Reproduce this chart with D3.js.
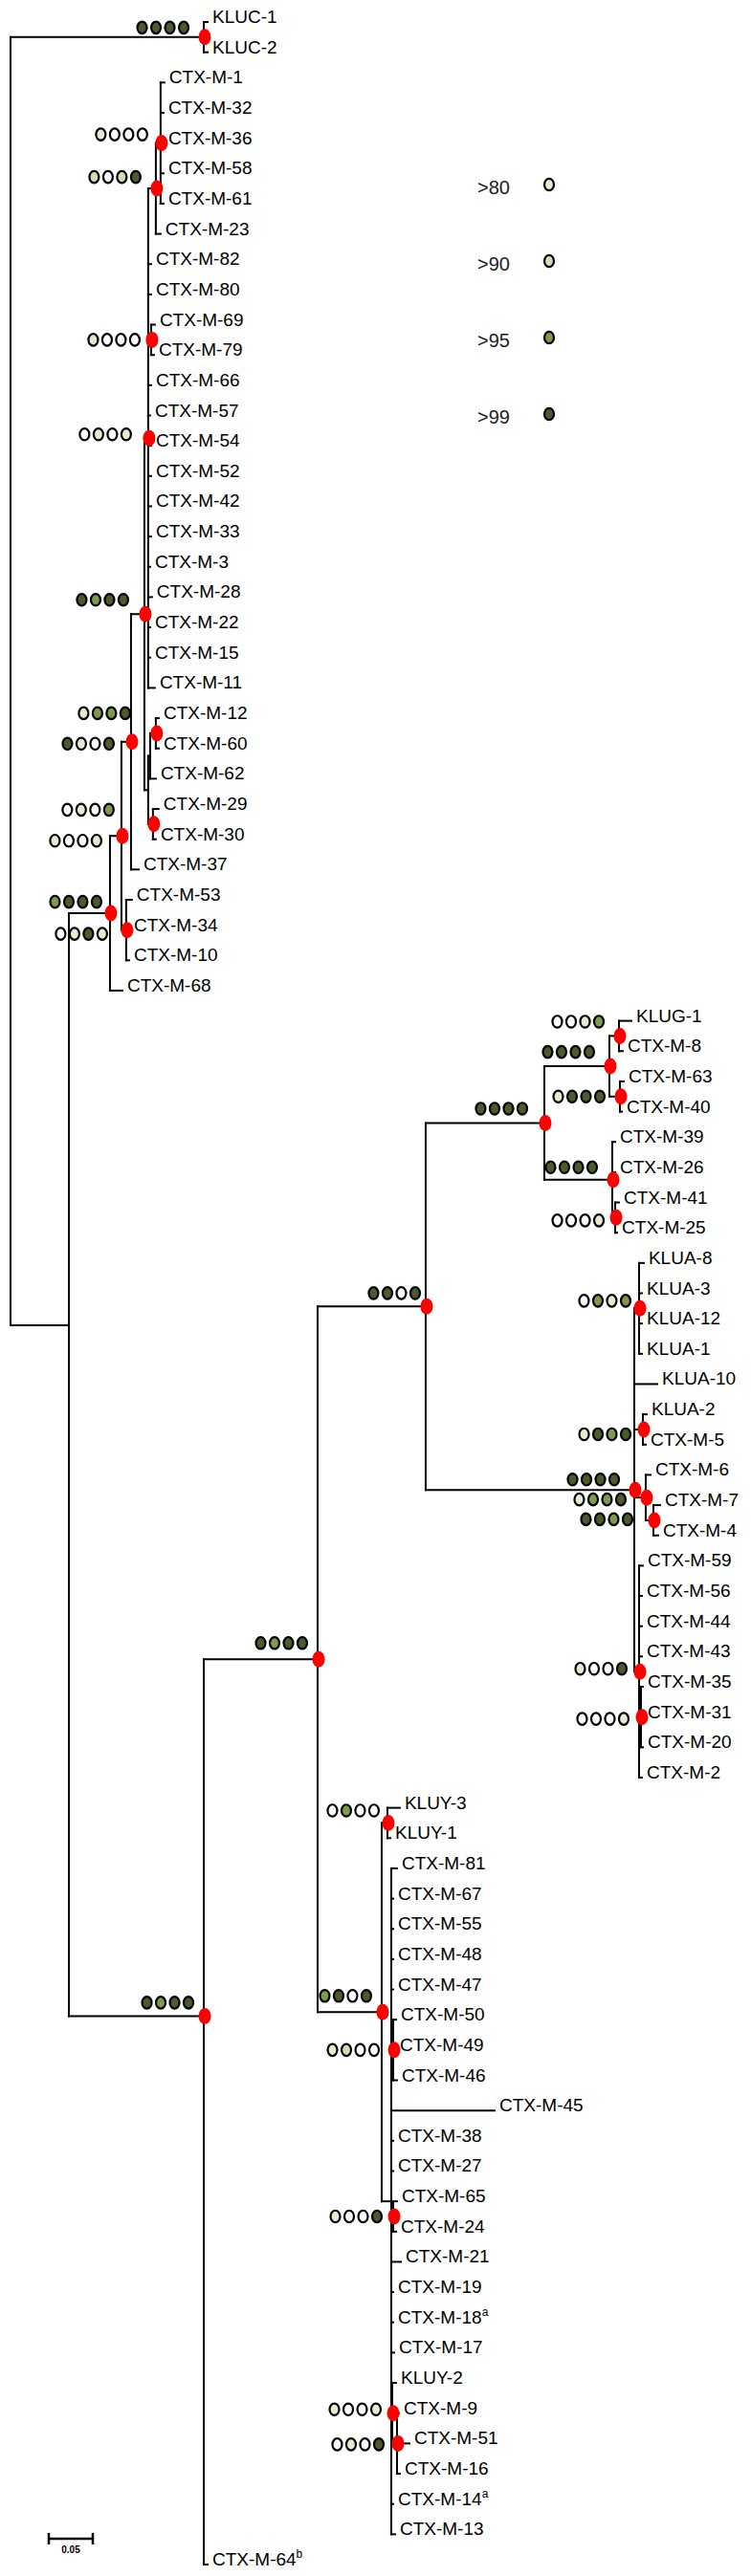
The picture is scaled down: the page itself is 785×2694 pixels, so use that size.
<!DOCTYPE html>
<html><head><meta charset="utf-8">
<script src="https://cdn.jsdelivr.net/npm/d3@7"></script>
<style>body{margin:0;background:#fff}svg{display:block}</style>
</head><body>
<svg id="chart" width="785" height="2694"></svg>
<script>
// ---------- DATA ----------
const leafNames = [
 "KLUC-1","KLUC-2","CTX-M-1","CTX-M-32","CTX-M-36","CTX-M-58","CTX-M-61","CTX-M-23",
 "CTX-M-82","CTX-M-80","CTX-M-69","CTX-M-79","CTX-M-66","CTX-M-57","CTX-M-54","CTX-M-52",
 "CTX-M-42","CTX-M-33","CTX-M-3","CTX-M-28","CTX-M-22","CTX-M-15","CTX-M-11","CTX-M-12",
 "CTX-M-60","CTX-M-62","CTX-M-29","CTX-M-30","CTX-M-37","CTX-M-53","CTX-M-34","CTX-M-10",
 "CTX-M-68","KLUG-1","CTX-M-8","CTX-M-63","CTX-M-40","CTX-M-39","CTX-M-26","CTX-M-41",
 "CTX-M-25","KLUA-8","KLUA-3","KLUA-12","KLUA-1","KLUA-10","KLUA-2","CTX-M-5",
 "CTX-M-6","CTX-M-7","CTX-M-4","CTX-M-59","CTX-M-56","CTX-M-44","CTX-M-43","CTX-M-35",
 "CTX-M-31","CTX-M-20","CTX-M-2","KLUY-3","KLUY-1","CTX-M-81","CTX-M-67","CTX-M-55",
 "CTX-M-48","CTX-M-47","CTX-M-50","CTX-M-49","CTX-M-46","CTX-M-45","CTX-M-38","CTX-M-27",
 "CTX-M-65","CTX-M-24","CTX-M-21","CTX-M-19","CTX-M-18","CTX-M-17","KLUY-2","CTX-M-9",
 "CTX-M-51","CTX-M-16","CTX-M-14","CTX-M-13","CTX-M-64"
];
const leafSuperscripts = [["CTX-M-18","a"],["CTX-M-14","a"],["CTX-M-64","b"]];

// internal nodes: [node, parent, branch length]
const internalEdges = [
 ["K","R",0.2196],["G","R",0.0663],["A","G",0.0467],["A1","A",0.0130],["A2","A1",0.0109],
 ["A4","A2",0.0152],["C1","A4",0.0043],["B2","C1",0.0087],["B1","B2",0.0054],["N6979","C1",0.0033],
 ["C3","A4",0.0043],["C2","C3",0.0022],["N1260","C2",0.0065],["N2930","C3",0.0054],["A3","A1",0.0054],
 ["Bc","G",0.1533],["D","Bc",0.1293],["E","D",0.1228],["F","E",0.1348],["F1","F",0.0739],
 ["F1a","F1",0.0109],["F1b","F1",0.0120],["F2","F",0.0772],["F2b","F2",0.0033],["H","E",0.2370],
 ["KA","H",0.0054],["K25","H",0.0098],["N674","H",0.0130],["N74","N674",0.0087],["P","H",0.0054],
 ["P2","P",0.0022],["L","D",0.0728],["K2","L",0.0065],["N","L",0.0109],["N504","N",0.0022],
 ["N6524","N",0.0022],["X1","N",0.0011],["X2","X1",0.0054]
];
// leaves: [leaf, parent, branch length]
const leafEdges = [
 ["KLUC-1","K",0.0043],["KLUC-2","K",0.0043],["CTX-M-1","B1",0.0043],["CTX-M-32","B1",0.0033],
 ["CTX-M-36","B1",0.0033],["CTX-M-58","B1",0.0033],["CTX-M-61","B1",0.0033],["CTX-M-23","B2",0.0054],
 ["CTX-M-82","C1",0.0033],["CTX-M-80","C1",0.0033],["CTX-M-69","N6979",0.0043],["CTX-M-79","N6979",0.0033],
 ["CTX-M-66","C1",0.0033],["CTX-M-57","C1",0.0022],["CTX-M-54","C1",0.0033],["CTX-M-52","C1",0.0033],
 ["CTX-M-42","C1",0.0033],["CTX-M-33","C1",0.0033],["CTX-M-3","C1",0.0022],["CTX-M-28","C1",0.0043],
 ["CTX-M-22","C1",0.0022],["CTX-M-15","C1",0.0022],["CTX-M-11","C1",0.0076],["CTX-M-12","N1260",0.0033],
 ["CTX-M-60","N1260",0.0033],["CTX-M-62","C2",0.0065],["CTX-M-29","N2930",0.0065],["CTX-M-30","N2930",0.0033],
 ["CTX-M-37","A2",0.0087],["CTX-M-53","A3",0.0065],["CTX-M-34","A3",0.0033],["CTX-M-10","A3",0.0033],
 ["CTX-M-68","A",0.0141],["KLUG-1","F1a",0.0141],["CTX-M-8","F1a",0.0043],["CTX-M-63","F1b",0.0043],
 ["CTX-M-40","F1b",0.0022],["CTX-M-39","F2",0.0033],["CTX-M-26","F2",0.0033],["CTX-M-41","F2b",0.0043],
 ["CTX-M-25","F2b",0.0022],["KLUA-8","KA",0.0054],["KLUA-3","KA",0.0033],["KLUA-12","KA",0.0033],
 ["KLUA-1","KA",0.0033],["KLUA-10","H",0.0261],["KLUA-2","K25",0.0043],["CTX-M-5","K25",0.0033],
 ["CTX-M-6","N674",0.0054],["CTX-M-7","N74",0.0076],["CTX-M-4","N74",0.0054],["CTX-M-59","P",0.0043],
 ["CTX-M-56","P",0.0033],["CTX-M-44","P",0.0033],["CTX-M-43","P",0.0033],["CTX-M-35","P2",0.0022],
 ["CTX-M-31","P2",0.0022],["CTX-M-20","P2",0.0022],["CTX-M-2","P",0.0033],["KLUY-3","K2",0.0141],
 ["KLUY-1","K2",0.0033],["CTX-M-81","N",0.0065],["CTX-M-67","N",0.0022],["CTX-M-55","N",0.0022],
 ["CTX-M-48","N",0.0022],["CTX-M-47","N",0.0022],["CTX-M-50","N504",0.0033],["CTX-M-49","N504",0.0022],
 ["CTX-M-46","N504",0.0043],["CTX-M-45","N",0.1174],["CTX-M-38","N",0.0022],["CTX-M-27","N",0.0022],
 ["CTX-M-65","N6524",0.0043],["CTX-M-24","N6524",0.0033],["CTX-M-21","N",0.0109],["CTX-M-19","N",0.0022],
 ["CTX-M-18","N",0.0022],["CTX-M-17","N",0.0033],["KLUY-2","X1",0.0043],["CTX-M-9","X2",0.0022],
 ["CTX-M-51","X2",0.0141],["CTX-M-16","X2",0.0033],["CTX-M-14","N",0.0022],["CTX-M-13","N",0.0043],
 ["CTX-M-64","Bc",0.0043]
];
// support classes per node (0 = below 80, 1 = >80, 2 = >90, 3 = >95, 4 = >99)
const supportNodes = ["K","B1","B2","N6979","C1","A4","N1260","A2","N2930","A1","A","A3","E","F","F1a","F1",
 "F1b","F2","F2b","KA","K25","H","N674","N74","P","P2","D","Bc","L","K2","N504","N6524","X1","X2"];
const supportValues = [
 [4,4,4,4],[1,0,0,0],[2,0,2,4],[1,0,0,0],[0,1,0,1],[4,3,4,4],[1,3,3,4],[4,1,0,4],[0,1,0,3],[1,0,0,1],
 [3,4,4,4],[0,1,4,1],[4,4,0,4],[4,4,4,4],[0,0,1,3],[4,4,4,4],[1,4,4,4],[4,4,4,4],[0,0,0,1],[0,3,1,3],
 [1,4,3,4],[4,4,4,4],[1,3,3,4],[4,4,3,4],[1,0,0,4],[0,0,0,1],[4,3,4,4],[4,3,4,4],[3,4,0,4],[0,3,0,0],
 [1,2,0,0],[1,0,0,4],[1,0,0,1],[0,1,0,4]
];
const legendLabels = [">80",">90",">95",">99"];
const legendClasses = [1,2,3,4];
const scaleBarValue = 0.05;

// ---------- STYLE / LAYOUT ----------
const classColors = ["#ffffff","#e4ebcf","#d2ddb1","#7e9a4b","#4b5b2c"];
// rows at which the figure draws two deep nodes (hand-placed in the original figure)
const nodeRowOverride = {G: 43.06, Bc: 65.88};
// annotation placement of the support strings, relative to the node [dx of last dot, dy]
const dotPlacement = {
 K:[-21,-10],B1:[-19,-9],B2:[-21,-12],N6979:[-17,0],C1:[-23,-4],A4:[-22,-15],N1260:[-32,-21],A2:[-23,2],
 N2930:[-46,-15],A1:[-26,5],A:[-14,-12],A3:[-25,4],E:[-11,-14],F:[-23,-15],F1a:[-21,-15],F1:[-21,-15],
 F1b:[-21,0],F2:[-21,-13],F2b:[-17,3],KA:[-14,-8],K25:[-18,5],H:[-21,-11],N674:[-26,2],N74:[-27,-1],
 P:[-18,-3],P2:[-18,2],D:[-16,-17],Bc:[-16,-14],L:[-16,-17],K2:[-14,-13],N504:[-20,0],N6524:[-17,0],
 X1:[-17,-4],X2:[-19,1]
};
const FONT = "'Liberation Sans', Arial, sans-serif";

const svg = d3.select("#chart");
const x = d3.scaleLinear().domain([0, 1]).range([11, 931]);
const y = d3.scaleLinear().domain([0, leafNames.length - 1]).range([23, 2682]);

// ---------- BUILD TREE ----------
const table = [{id:"R", parent:null, len:0}]
  .concat(internalEdges.map(([id,parent,len]) => ({id,parent,len})))
  .concat(leafEdges.map(([id,parent,len]) => ({id,parent,len})));
const root = d3.stratify().id(d => d.id).parentId(d => d.parent)(table);
const leafIndex = new Map(leafNames.map((n,i) => [n,i]));
root.eachAfter(n => {
  if (!n.children) { n.row = leafIndex.get(n.id); n.minRow = n.row; n.py = y(n.row); }
  else {
    n.children.sort((a,b) => a.minRow - b.minRow);
    n.minRow = n.children[0].minRow;
    n.py = (n.id in nodeRowOverride) ? y(nodeRowOverride[n.id])
         : (n.children[0].py + n.children[n.children.length-1].py) / 2;
  }
});
root.eachBefore(n => { n.dist = n.parent ? n.parent.dist + n.data.len : 0; n.px = x(n.dist); });

// ---------- DRAW BRANCHES ----------
const g = svg.append("g").attr("fill","none").attr("stroke","#000").attr("stroke-width",2).attr("stroke-linecap","square");
g.selectAll("path.h").data(root.descendants().filter(n => n.parent)).join("path")
  .attr("class","h").attr("d", n => `M${n.parent.px},${n.py}H${n.px}`);
g.selectAll("path.v").data(root.descendants().filter(n => n.children)).join("path")
  .attr("class","v").attr("d", n => {
    const ys = n.children.map(c => c.py).concat([n.py]);
    return `M${n.px},${d3.min(ys)}V${d3.max(ys)}`;
  });

// ---------- LABELS ----------
const supMap = new Map(leafSuperscripts);
const labels = svg.append("g").attr("font-family",FONT).attr("font-size",19).attr("fill","#000");
labels.selectAll("text").data(root.leaves()).join("text")
  .attr("x", n => n.px + 5).attr("y", n => n.py + 1)
  .each(function(n){
    const t = d3.select(this);
    t.append("tspan").text(n.id);
    if (supMap.has(n.id)) t.append("tspan").attr("font-size",12).attr("dy",-8).text(supMap.get(n.id));
  });

// ---------- SUPPORT DOTS & RED NODE MARKS ----------
const nodeById = new Map(root.descendants().map(n => [n.id, n]));
const supG = svg.append("g");
supportNodes.forEach((id,i) => {
  const n = nodeById.get(id);
  const [dx,dy] = dotPlacement[id];
  supportValues[i].forEach((c,j) => {
    supG.append("ellipse")
      .attr("cx", n.px + dx - (3-j)*14.5).attr("cy", n.py + dy)
      .attr("rx",5).attr("ry",6.2)
      .attr("fill", classColors[c]).attr("stroke","#000").attr("stroke-width",2.2);
  });
});
svg.append("g").selectAll("ellipse").data(supportNodes.map(id => nodeById.get(id))).join("ellipse")
  .attr("cx", n => n.px + 1).attr("cy", n => n.py).attr("rx",6.5).attr("ry",8.5).attr("fill","#ff0000");

// ---------- LEGEND ----------
const ly = d3.scalePoint().domain(legendLabels).range([203, 443]);
const leg = svg.append("g");
leg.selectAll("text").data(legendLabels).join("text")
  .attr("x",499).attr("y", d => ly(d)).attr("font-family",FONT).attr("font-size",20).attr("fill","#222").text(d => d);
leg.selectAll("ellipse").data(legendLabels).join("ellipse")
  .attr("cx",574).attr("cy", d => ly(d) - 10).attr("rx",5).attr("ry",6.2)
  .attr("fill",(d,i) => classColors[legendClasses[i]]).attr("stroke","#000").attr("stroke-width",2.2);

// ---------- SCALE BAR ----------
const sbX0 = 51, sbY = 2655, sbW = x(scaleBarValue) - x(0);
const sb = svg.append("g").attr("stroke","#000").attr("stroke-width",2.5);
sb.append("line").attr("x1",sbX0).attr("x2",sbX0+sbW).attr("y1",sbY).attr("y2",sbY);
sb.append("line").attr("x1",sbX0).attr("x2",sbX0).attr("y1",sbY-6).attr("y2",sbY+6);
sb.append("line").attr("x1",sbX0+sbW).attr("x2",sbX0+sbW).attr("y1",sbY-6).attr("y2",sbY+6);
svg.append("text").attr("x",sbX0+sbW/2).attr("y",sbY+15).attr("text-anchor","middle")
  .attr("font-family",FONT).attr("font-size",10).attr("font-weight","bold").text(scaleBarValue.toFixed(2));
</script>
</body></html>
